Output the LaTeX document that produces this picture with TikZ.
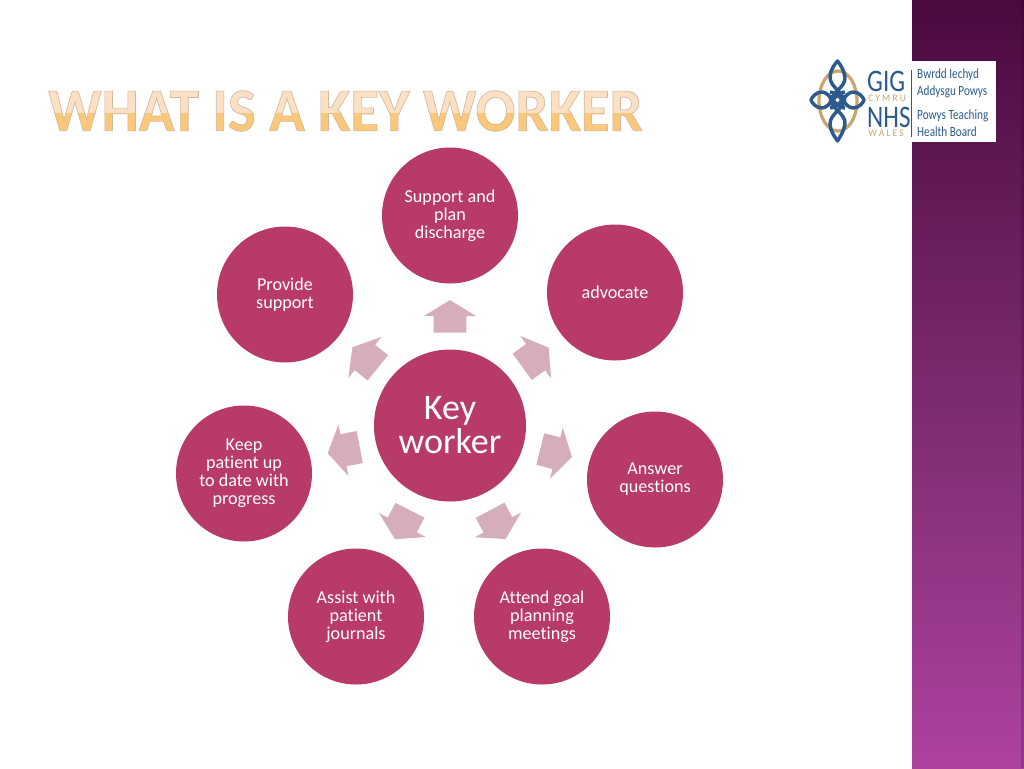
\documentclass[tikz,border=0pt]{standalone}
\usepackage{fontspec}
\setmainfont[Ligatures=NoCommon]{Carlito}
\newfontfamily\titlefont{Carlito Bold}
\usetikzlibrary{shapes.arrows}
\definecolor{rosecol}{HTML}{B83A68}
\definecolor{arrowcol}{HTML}{D6AEBB}
\definecolor{bandtop}{HTML}{4A0A3E}
\definecolor{bandmid}{HTML}{7A2A6E}
\definecolor{bandlow}{HTML}{AD429F}
\definecolor{logoblue}{HTML}{2C5A8C}
\definecolor{logogold}{HTML}{CBA56E}
\definecolor{titletop}{HTML}{FBE0C4}
\definecolor{titlelow}{HTML}{FAC878}
\newcommand{\outlined}[1]{\special{pdf:code q 2 Tr 0.5 w 0.82 0.72 0.62 RG}#1\special{pdf:code Q}}

\begin{document}
\begin{tikzpicture}[x=0.75pt,y=-0.75pt,
  main node/.style={circle,fill=rosecol,text=white,align=center,inner sep=0pt,
    minimum size=102pt,font=\fontsize{13.6}{13.4}\selectfont},
  key node/.style={main node,minimum size=114pt,font=\fontsize{27}{25.5}\selectfont},
  out arrow/.style={single arrow,fill=arrowcol,inner sep=0pt,minimum height=24.5pt,text height=24pt,
    text depth=0pt,single arrow head extend=7.5pt,single arrow tip angle=117,anchor=tail},
  title text/.style={anchor=west,inner sep=0pt,xscale=0.96,font=\titlefont\fontsize{46}{46}\selectfont},
  logo text/.style={text=logoblue,inner sep=0pt,anchor=west},
  logo big/.style={logo text,xscale=0.8,font=\fontsize{23.5}{24}\selectfont},
  logo small/.style={logo text,text=logogold,xscale=0.95,font=\fontsize{7.5}{8}\selectfont},
  logo line/.style={logo text,xscale=0.8,font=\fontsize{10.5}{10}\selectfont},
  knot/.style={logoblue,line width=2.6pt,line join=round}]

  \useasboundingbox (0,0) rectangle (1024,768);
  \fill[white] (0,0) rectangle (1024,768);

  % side band
  \shade[top color=bandtop,bottom color=bandmid] (912,0) rectangle (1024,384);
  \shade[top color=bandmid,bottom color=bandlow] (912,384) rectangle (1024,768);
  \fill[black,opacity=0.15] (1021,0) rectangle (1024,768);

  % title
  \begin{scope}
    \clip (30,80) rectangle (700,113);
    \node[title text,text=titletop] (titleA) at (48,111) {\outlined{WHAT IS A KEY WORKER}};
  \end{scope}
  \begin{scope}
    \clip (30,113) rectangle (700,140);
    \node[title text,text=titlelow] (titleB) at (48,111) {\outlined{WHAT IS A KEY WORKER}};
  \end{scope}

  % logo
  \fill[white] (912,61) rectangle (996,142);
  \draw[logogold,line width=2.4pt] (838,101) ellipse (19 and 30);
  \draw[knot] (830,105) .. controls (830,92) and (846,88) .. (845,77) .. controls (844,70) and (840,64) .. (837.5,61)
    .. controls (835,64) and (830,70) .. (830,77) .. controls (830,88) and (845,92) .. (845,105);
  \draw[knot] (830,96) .. controls (830,109) and (846,113) .. (845,124) .. controls (844,131) and (840,137) .. (837.5,141)
    .. controls (835,137) and (830,131) .. (830,124) .. controls (830,113) and (845,109) .. (845,96);
  \draw[knot] (845,92) .. controls (835,92) and (830,108) .. (822,108) .. controls (816,108) and (812,103) .. (811,100)
    .. controls (812,97) and (816,92) .. (822,92) .. controls (830,92) and (835,108) .. (845,108);
  \draw[knot] (830,92) .. controls (840,92) and (845,108) .. (853,108) .. controls (859,108) and (863,103) .. (864,100)
    .. controls (863,97) and (859,92) .. (853,92) .. controls (845,92) and (840,108) .. (830,108);
  \draw[logoblue,line width=0.6pt] (911,70) -- (911,137);
  \node[logo big] (gig) at (867,81) {GIG};
  \node[logo small] (cymru) at (868,98) {C Y M R U};
  \node[logo big] (nhs) at (867,117) {NHS};
  \node[logo small] (wales) at (868,133) {W A L E S};
  \node[logo line] (bwrdd) at (917,75) {Bwrdd Iechyd};
  \node[logo line] (addysgu) at (917,92) {Addysgu Powys};
  \node[logo line] (powys) at (917,116) {Powys Teaching};
  \node[logo line] (health) at (917,132) {Health Board};

  % circles
  \node[key node] (key) at (450,425.5) {Key\\worker};
  \node[main node] (1) at (450,215.5) {Support and\\plan\\discharge};
  \node[main node] (2) at (615,292.5) {advocate};
  \node[main node] (3) at (655,479.5) {Answer\\questions};
  \node[main node] (4) at (542,616.5) {Attend goal\\planning\\meetings};
  \node[main node] (5) at (356,616.5) {Assist with\\patient\\journals};
  \node[main node] (6) at (244,473.5) {Keep\\patient up\\to date with\\progress};
  \node[main node] (7) at (285,294.5) {Provide\\support};

  % arrows
  \node[out arrow,rotate=90] (a1) at (450,333) {};
  \node[out arrow,rotate=36] (a2) at (522,367) {};
  \node[out arrow,rotate=-14] (a3) at (540,449) {};
  \node[out arrow,rotate=-62] (a4) at (490,510) {};
  \node[out arrow,rotate=-117] (a5) at (410,510) {};
  \node[out arrow,rotate=-169] (a6) at (360,447) {};
  \node[out arrow,rotate=141] (a7) at (378,368) {};
\end{tikzpicture}
\end{document}
